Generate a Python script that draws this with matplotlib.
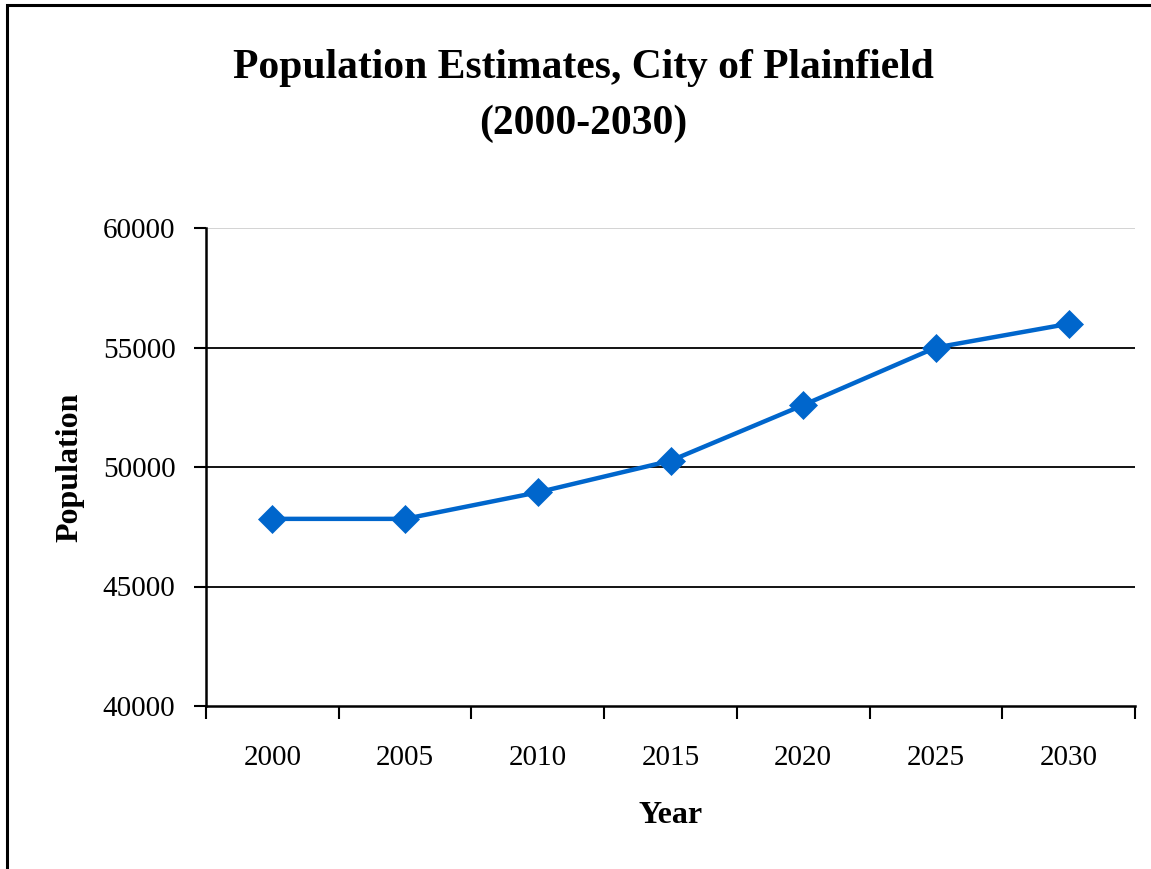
import numpy as np
import matplotlib
matplotlib.use("Agg")
import matplotlib.pyplot as plt
from matplotlib.patches import Rectangle

# Data
years = ["2000", "2005", "2010", "2015", "2020", "2025", "2030"]
population = [47830, 47830, 48940, 50260, 52590, 55000, 55990]
y_ticks = [40000, 45000, 50000, 55000, 60000]

plt.rcParams["font.family"] = ["Liberation Serif", "DejaVu Serif"]

fig = plt.figure(figsize=(11.51, 8.69), dpi=100)
ax = fig.add_axes([206 / 1151, 1 - 706 / 869, 929 / 1151, 478 / 869])

x = np.arange(len(years))
ax.plot(x, population, color="#0066CC", lw=3.2, marker="D", ms=14,
        mec="#0066CC", mew=0.5, zorder=5, clip_on=False)

# ------------------------------
# Axes
ax.set_ylim(y_ticks[0], y_ticks[-1])
ax.set_yticks(y_ticks)
ax.set_xlim(-0.5, len(years) - 0.5)
ax.set_xticks(np.arange(len(years) + 1) - 0.5)
ax.set_xticklabels([])
ax.set_xticks(x, minor=True)
ax.set_xticklabels(years, minor=True)

for v in y_ticks[1:-1]:
    ax.axhline(v, color="black", lw=1.3, zorder=1)
ax.axhline(y_ticks[-1], color="#D0D0D0", lw=1.3, zorder=1)

for s in ["top", "right"]:
    ax.spines[s].set_visible(False)
for s in ["left", "bottom"]:
    ax.spines[s].set_linewidth(1.8)
    ax.spines[s].set_zorder(6)

ax.tick_params(axis="y", which="major", direction="out", length=9, width=1.5,
               labelsize=21, pad=13)
ax.tick_params(axis="x", which="major", direction="out", length=9, width=1.5)
ax.tick_params(axis="x", which="minor", length=0, labelsize=21, pad=28)

ax.set_xlabel("Year", fontsize=23, fontweight="bold", labelpad=22)
ax.set_ylabel("Population", fontsize=23, fontweight="bold", labelpad=13)

# ------------------------------
# Title and chart frame
fig.text(583 / 1151, 1 - 96 / 869, "Population Estimates, City of Plainfield\n(2000-2030)",
         ha="center", va="center", fontsize=30, fontweight="bold", linespacing=1.62)

fig.patches.append(Rectangle((7 / 1151, -0.05), 1.2, 1 - 5 / 869 + 0.05,
                             transform=fig.transFigure, fill=False,
                             ec="black", lw=2.2))

fig.savefig("out.png", dpi=100)
